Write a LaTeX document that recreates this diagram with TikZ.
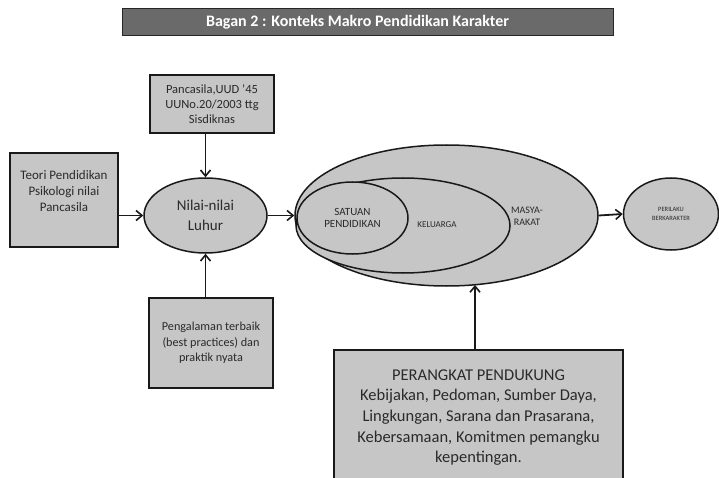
\documentclass[tikz,border=0pt]{standalone}
\usepackage{fontspec}
\setmainfont{Carlito}
\usetikzlibrary{shapes.geometric,arrows.meta}
\definecolor{boxfill}{HTML}{C6C6C6}
\definecolor{titlefill}{HTML}{6A6A6A}
\definecolor{txt}{HTML}{2A2A2A}
\tikzset{
  graybox/.style={draw=black!90, line width=1.7pt, fill=boxfill, inner sep=0pt, align=center, text=txt},
  grayell/.style={ellipse, draw=black!90, line width=1.5pt, fill=boxfill, inner sep=0pt, align=center, text=txt},
  arr/.style={line width=1.8pt, draw=black!90, -{Straight Barb[length=6pt,width=10pt,line width=1.6pt]}},
  lbl/.style={inner sep=0pt, align=center, text=txt}
}
\begin{document}
\begin{tikzpicture}[x=1pt,y=-1pt]
\clip (0,0) rectangle (719,478);
\fill[white] (0,0) rectangle (719,478);
% title
\node[draw=black!85, line width=1pt, fill=titlefill, minimum width=491pt, minimum height=27pt, inner sep=0pt,
      text=white, font=\fontsize{16}{18}\selectfont\bfseries] (title) at (367.5,22.5) {\hspace*{-20pt}Bagan 2 : Konteks Makro Pendidikan Karakter};
% left side boxes
\node[graybox, minimum width=124pt, minimum height=58pt, font=\fontsize{12.5}{15}\selectfont] (topbox) at (212,104)
  {Pancasila,UUD '45\\UUNo.20/2003 ttg\\Sisdiknas};
\node[graybox, minimum width=108pt, minimum height=94pt, font=\fontsize{13}{16}\selectfont] (leftbox) at (64,200)
  {Teori Pendidikan\\Psikologi nilai\\Pancasila\\[2pt]};
\node[graybox, minimum width=124pt, minimum height=90pt, font=\fontsize{12.2}{15.5}\selectfont] (pbox) at (211,343)
  {Pengalaman terbaik\\(best practices) dan\\praktik nyata};
\node[grayell, minimum width=123pt, minimum height=75pt, font=\fontsize{15}{20}\selectfont] (nilai) at (205.5,215.5)
  {Nilai-nilai\\Luhur};
% nested ellipses
\node[grayell, minimum width=303pt, minimum height=141pt] (big) at (446.5,215.5) {};
\node[grayell, minimum width=214pt, minimum height=95pt] (mid) at (403,225.5) {};
\node[grayell, minimum width=111pt, minimum height=72pt, font=\fontsize{11}{11.5}\selectfont] (small) at (352.5,218)
  {SATUAN\\PENDIDIKAN};
\node[lbl, font=\fontsize{9}{10}\selectfont] (kel) at (437,225) {KELUARGA};
\node[lbl, font=\fontsize{10}{12}\selectfont] (mas) at (527,216) {MASYA-\\RAKAT};
% right ellipse
\node[grayell, minimum width=95pt, minimum height=72pt, font=\fontsize{6.5}{9}\selectfont] (peri) at (671,214)
  {PERILAKU\\BERKARAKTER};
% bottom box
\node[graybox, minimum width=289pt, minimum height=135pt, font=\fontsize{16.5}{20.6}\selectfont] (bbox) at (478.5,417.5)
  {PERANGKAT PENDUKUNG\\Kebijakan, Pedoman, Sumber Daya,\\Lingkungan, Sarana dan Prasarana,\\Kebersamaan, Komitmen pemangku\\kepentingan.};
% connectors
\coordinate (bigin) at (475,285);
\draw[arr] (topbox.south -| nilai.north) -- (nilai.north);
\draw[arr] (pbox.north -| nilai.south) -- (nilai.south);
\draw[arr] (leftbox.east |- nilai.west) -- (nilai.west);
\draw[arr] (nilai.east) -- (big.west);
\draw[arr] (big.east) -- (peri.west);
\draw[arr] (bbox.north -| bigin) -- (bigin);
\end{tikzpicture}
\end{document}
